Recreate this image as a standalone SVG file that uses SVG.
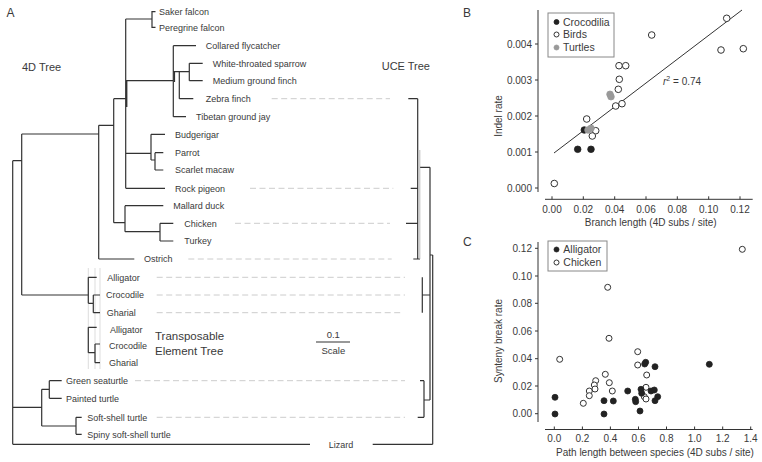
<svg xmlns="http://www.w3.org/2000/svg" width="762" height="462" viewBox="0 0 762 462">
<style>
text{font-family:"Liberation Sans",Arial,sans-serif;fill:#3a3a3a}
.lf{font-size:9px}
.big{font-size:11.5px}
.tk{font-size:10px}
.ln{stroke:#333;stroke-width:1.2;fill:none}
.dash{stroke:#ccc;stroke-width:1;stroke-dasharray:6 3.5;fill:none}
.faint{stroke:#ddd;stroke-width:1;fill:none}
.op{fill:#fff;stroke:#333;stroke-width:1}
.fl{fill:#222;stroke:#222;stroke-width:0.8}
.gr{fill:#999;stroke:#999;stroke-width:0.8}
.ax{stroke:#333;stroke-width:1;fill:none}
.lg{fill:#fff;stroke:#888;stroke-width:1}
</style>

<text x="6.5" y="16.7" style="font-size:12px">A</text>
<text x="463" y="17" style="font-size:12px">B</text>
<text x="463" y="246" style="font-size:12px">C</text>

<text x="22" y="70.5" style="font-size:11px">4D Tree</text>
<text x="381.7" y="69.7" style="font-size:11px">UCE Tree</text>
<text x="155" y="340" class="big">Transposable</text>
<text x="155" y="355" class="big">Element Tree</text>
<g id="scale">
<text x="333.3" y="338" class="lf" text-anchor="middle" style="font-size:9.5px">0.1</text>
<line x1="316" y1="342" x2="350" y2="342" class="ln"/>
<text x="333.3" y="354" class="lf" text-anchor="middle" style="font-size:9.5px">Scale</text>
</g>

<g id="faint-lines">
<line x1="88.3" y1="268" x2="88.3" y2="369" class="faint"/>
<line x1="95" y1="268" x2="95" y2="369" class="faint"/>
<line x1="100" y1="268" x2="100" y2="369" class="faint"/>
</g>

<g id="dashed">
<line x1="271.7" y1="98.7" x2="390" y2="98.7" class="dash"/>
<line x1="250" y1="188.3" x2="393.3" y2="188.3" class="dash"/>
<line x1="235" y1="223.3" x2="390" y2="223.3" class="dash"/>
<line x1="188.3" y1="259" x2="391.7" y2="259" class="dash"/>
<line x1="156.7" y1="277.3" x2="405" y2="277.3" class="dash"/>
<line x1="156.7" y1="295" x2="405" y2="295" class="dash"/>
<line x1="156.7" y1="312.7" x2="403.3" y2="312.7" class="dash"/>
<line x1="135" y1="380.7" x2="405" y2="380.7" class="dash"/>
<line x1="156.7" y1="417.3" x2="405" y2="417.3" class="dash"/>
</g>

<g id="connectors">
<path class="ln" d="M125.7,19H152M152,11V28M152,11.7H155.5M152,27.3H155.5
M125.7,19V188.3
M173.3,80.7H125.7M173.3,45.7V116.7M173.3,45.7H196M173.3,71.7H189.3M179.3,71.7V98.7M179.3,98.7H193.3
M189.3,63.3V80.7M189.3,63.3H202.7M189.3,80.7H202.7M173.3,116.7H186
M125.7,153.3H151M151,134.3V160M151,134.3H165M151,160H155M155,152.7V170M155,152.7H163.3M155,170H163.3
M125.7,188.3H165
M113.7,98.7H125.7M113.7,98.7V222.7
M113.7,222.7H125M125,205.7V231.7M125,205.7H163.3M125,231.7H160M160,223.3V241M160,223.3H173.3M160,241H173.3
M98.7,125.3H113.7M98.7,125.3V259M98.7,259H134.3
M21.7,134H98.7M21.7,134V295M21.7,295H88.3
M88.3,277.3V303.3M88.3,277.3H96.7M88.3,303.3H93.3M93.3,295V312.7M93.3,295H100M93.3,312.7H100
M12.7,160.7H21.7M12.7,160.7V444.3M12.7,407.3H41.7M12.7,444.3H310
M41.7,389.3V426M41.7,389.3H49.3M49.3,380.7V398.3M49.3,380.7H61.7M49.3,398.3H61.7
M41.7,426H76M76,417.3V434.3M76,417.3H81.7M76,434.3H81.7
M88.3,327.3V352.7M88.3,327.3H96.7M88.3,352.7H95M95,344V362.7M95,344H100M95,362.7H100
M408.3,98.7H417.7M410.7,188.3H417.7M406,223.3H417.7M413.3,259H420M417.7,98.7V259
M420,167.3H430M430,167.3V400
M422.3,277.3V312.7M422.3,295H430
M424,380.7V417.3M420,380.7H424M417.7,417.3H424M424,400H430
M430,255H432.7M432.7,255V444.3M372.7,444.3H432.7"/>
<path d="M126.7,80V107M174.4,71V82" stroke="#333" stroke-width="1.4"/>
<line x1="419.8" y1="150" x2="419.8" y2="259" stroke="#aaa" stroke-width="0.8"/>
</g>

<g id="leaves" class="lf">
<g id="n-saker"><text x="159" y="15" class="lf">Saker falcon</text></g>
<g id="n-peregrine"><text x="159" y="30.6" class="lf">Peregrine falcon</text></g>
<g id="n-flycatcher"><text x="205.7" y="49" class="lf">Collared flycatcher</text></g>
<g id="n-sparrow"><text x="212.7" y="66.6" class="lf">White-throated sparrow</text></g>
<g id="n-groundfinch"><text x="212.7" y="84" class="lf">Medium ground finch</text></g>
<g id="n-zebra"><text x="205.7" y="102" class="lf">Zebra finch</text></g>
<g id="n-jay"><text x="196" y="120" class="lf">Tibetan ground jay</text></g>
<g id="n-budgerigar"><text x="175" y="137.6" class="lf">Budgerigar</text></g>
<g id="n-parrot"><text x="175" y="156" class="lf">Parrot</text></g>
<g id="n-macaw"><text x="175" y="173.3" class="lf">Scarlet macaw</text></g>
<g id="n-pigeon"><text x="175" y="191.6" class="lf">Rock pigeon</text></g>
<g id="n-mallard"><text x="173.3" y="209" class="lf">Mallard duck</text></g>
<g id="n-chicken"><text x="184.3" y="226.6" class="lf">Chicken</text></g>
<g id="n-turkey"><text x="184.3" y="244.3" class="lf">Turkey</text></g>
<g id="n-ostrich"><text x="144" y="262.3" class="lf">Ostrich</text></g>
<g id="n-alligator"><text x="107.3" y="280.6" class="lf">Alligator</text></g>
<g id="n-crocodile"><text x="106" y="298.3" class="lf">Crocodile</text></g>
<g id="n-gharial"><text x="106.7" y="316" class="lf">Gharial</text></g>
<g id="n-te-alligator"><text x="110" y="333.3" class="lf">Alligator</text></g>
<g id="n-te-crocodile"><text x="109" y="349.3" class="lf">Crocodile</text></g>
<g id="n-te-gharial"><text x="109" y="366" class="lf">Gharial</text></g>
<g id="n-greensea"><text x="66" y="384" class="lf">Green seaturtle</text></g>
<g id="n-painted"><text x="66" y="401.6" class="lf">Painted turtle</text></g>
<g id="n-softshell"><text x="87.3" y="420.6" class="lf">Soft-shell turtle</text></g>
<g id="n-spiny"><text x="87.3" y="437.6" class="lf">Spiny soft-shell turtle</text></g>
<g id="n-lizard"><text x="341" y="447.6" class="lf" text-anchor="middle">Lizard</text></g>
</g>

<g id="panelB">
<path class="ax" d="M538,10V192M535,44H538M535,80H538M535,116H538M535,152H538M535,188H538
M545,199.3H752.7M552,199.3V196.3M583.3,199.3V196.3M614.7,199.3V196.3M646,199.3V196.3M677.3,199.3V196.3M708.7,199.3V196.3M740,199.3V196.3"/>
<g class="tk" text-anchor="end">
<text x="532" y="47.5" class="tk">0.004</text>
<text x="532" y="83.5" class="tk">0.003</text>
<text x="532" y="119.5" class="tk">0.002</text>
<text x="532" y="155.5" class="tk">0.001</text>
<text x="532" y="191.5" class="tk">0.000</text>
</g>
<g text-anchor="middle">
<text x="552" y="213" class="tk">0.00</text>
<text x="583.3" y="213" class="tk">0.02</text>
<text x="614.7" y="213" class="tk">0.04</text>
<text x="646" y="213" class="tk">0.06</text>
<text x="677.3" y="213" class="tk">0.08</text>
<text x="708.7" y="213" class="tk">0.10</text>
<text x="740" y="213" class="tk">0.12</text>
<text x="650.7" y="226" class="tk">Branch length (4D subs / site)</text>
<text transform="translate(502,116) rotate(-90)" class="tk">Indel rate</text>
</g>
<line x1="554" y1="153" x2="742" y2="10" stroke="#333" stroke-width="1"/>
<text x="663" y="85" class="tk"><tspan font-style="italic">r</tspan><tspan dy="-4" style="font-size:7px">2</tspan><tspan dy="4"> = 0.74</tspan></text>
<g id="b-points">
<circle cx="726.7" cy="18.3" r="3.3" class="op"/>
<circle cx="651.7" cy="35" r="3.3" class="op"/>
<circle cx="721" cy="50" r="3.3" class="op"/>
<circle cx="743.3" cy="48.7" r="3.3" class="op"/>
<circle cx="619" cy="65.7" r="3.3" class="op"/>
<circle cx="625.7" cy="65.7" r="3.3" class="op"/>
<circle cx="619.3" cy="79.3" r="3.3" class="op"/>
<circle cx="618.3" cy="89.3" r="3.3" class="op"/>
<circle cx="615.7" cy="106" r="3.3" class="op"/>
<circle cx="622" cy="103.7" r="3.3" class="op"/>
<circle cx="586.7" cy="119" r="3.3" class="op"/>
<circle cx="595.7" cy="130.7" r="3.3" class="op"/>
<circle cx="592.3" cy="136" r="3.3" class="op"/>
<circle cx="554.3" cy="183.5" r="3.3" class="op" stroke-width="2"/>
<circle cx="610" cy="94.3" r="3.3" class="gr"/>
<circle cx="611" cy="96.7" r="3.3" class="gr"/>
<circle cx="584.3" cy="130" r="3.3" class="fl"/>
<circle cx="588" cy="130" r="3.3" class="gr"/>
<circle cx="591" cy="128.3" r="3.3" class="gr"/>
<circle cx="577.7" cy="149.3" r="3.3" class="fl"/>
<circle cx="591" cy="149.3" r="3.3" class="fl"/>
</g>
<g id="b-legend">
<rect x="548" y="13" width="66" height="44" class="lg"/>
<circle cx="556.5" cy="22" r="2.5" class="fl"/>
<circle cx="556.5" cy="34.5" r="2.5" class="op"/>
<circle cx="556.5" cy="47.5" r="2.5" class="gr"/>
<text x="563" y="25.8" style="font-size:10.5px">Crocodilia</text>
<text x="563" y="38.3" style="font-size:10.5px">Birds</text>
<text x="563" y="51.3" style="font-size:10.5px">Turtles</text>
</g>
</g>

<g id="panelC">
<path class="ax" d="M538,242V422M535,248.3H538M535,276H538M535,303.3H538M535,331H538M535,358.7H538M535,386H538M535,413.7H538
M545,429.5H752.7M554.3,429.5V426.5M582.4,429.5V426.5M610.4,429.5V426.5M638.5,429.5V426.5M666.5,429.5V426.5M694.6,429.5V426.5M722.7,429.5V426.5M750.7,429.5V426.5"/>
<g text-anchor="end">
<text x="532" y="251.8" class="tk">0.12</text>
<text x="532" y="279.5" class="tk">0.10</text>
<text x="532" y="306.8" class="tk">0.08</text>
<text x="532" y="334.5" class="tk">0.06</text>
<text x="532" y="362.2" class="tk">0.04</text>
<text x="532" y="389.5" class="tk">0.02</text>
<text x="532" y="417.2" class="tk">0.00</text>
</g>
<g text-anchor="middle">
<text x="554.3" y="442" class="tk">0.0</text>
<text x="582.4" y="442" class="tk">0.2</text>
<text x="610.4" y="442" class="tk">0.4</text>
<text x="638.5" y="442" class="tk">0.6</text>
<text x="666.5" y="442" class="tk">0.8</text>
<text x="694.6" y="442" class="tk">1.0</text>
<text x="722.7" y="442" class="tk">1.2</text>
<text x="750.7" y="442" class="tk">1.4</text>
<text x="655" y="456" class="tk">Path length between species (4D subs / site)</text>
<text transform="translate(502,341) rotate(-90)" class="tk">Synteny break rate</text>
</g>
<g id="c-points">
<circle cx="742.3" cy="249.3" r="3" class="op"/>
<circle cx="607.7" cy="287.3" r="3" class="op"/>
<circle cx="609" cy="338.3" r="3" class="op"/>
<circle cx="637.7" cy="351.7" r="3" class="op"/>
<circle cx="559.7" cy="359.3" r="3" class="op"/>
<circle cx="637.7" cy="365" r="3" class="op"/>
<circle cx="646.7" cy="375" r="3" class="op"/>
<circle cx="605.3" cy="374.3" r="3" class="op"/>
<circle cx="595.7" cy="380.7" r="3" class="op"/>
<circle cx="609.3" cy="382.7" r="3" class="op"/>
<circle cx="594.3" cy="385" r="3" class="op"/>
<circle cx="589.3" cy="391" r="3" class="op"/>
<circle cx="595" cy="389" r="3" class="op"/>
<circle cx="612.3" cy="391" r="3" class="op"/>
<circle cx="589.3" cy="395.7" r="3" class="op"/>
<circle cx="646" cy="387.3" r="3" class="op"/>
<circle cx="644.3" cy="396.7" r="3" class="op"/>
<circle cx="646" cy="399" r="3" class="op"/>
<circle cx="583.3" cy="403.3" r="3" class="op"/>
<circle cx="645.7" cy="362.3" r="3" class="fl"/>
<circle cx="644.7" cy="364" r="3" class="fl"/>
<circle cx="655" cy="366.7" r="3" class="fl"/>
<circle cx="709.3" cy="364.3" r="3" class="fl"/>
<circle cx="627.7" cy="391" r="3" class="fl"/>
<circle cx="641" cy="389.3" r="3" class="fl"/>
<circle cx="641.7" cy="393.3" r="3" class="fl"/>
<circle cx="651" cy="391" r="3" class="fl"/>
<circle cx="654.3" cy="390" r="3" class="fl"/>
<circle cx="657.7" cy="396.7" r="3" class="fl"/>
<circle cx="655" cy="400.7" r="3" class="fl"/>
<circle cx="635.3" cy="399.3" r="3" class="fl"/>
<circle cx="635.7" cy="401.7" r="3" class="fl"/>
<circle cx="555" cy="397.3" r="3" class="fl"/>
<circle cx="604" cy="400.7" r="3" class="fl"/>
<circle cx="613.3" cy="401" r="3" class="fl"/>
<circle cx="640" cy="411" r="3" class="fl"/>
<circle cx="555" cy="414" r="3" class="fl"/>
<circle cx="604" cy="414" r="3" class="fl"/>
</g>
<g id="c-legend">
<rect x="548" y="241" width="59" height="30" class="lg"/>
<circle cx="556.5" cy="249.5" r="2.5" class="fl"/>
<circle cx="556.5" cy="262.5" r="2.5" class="op"/>
<text x="563.3" y="253.3" style="font-size:10.5px">Alligator</text>
<text x="563.3" y="266.3" style="font-size:10.5px">Chicken</text>
</g>
</g>
</svg>
